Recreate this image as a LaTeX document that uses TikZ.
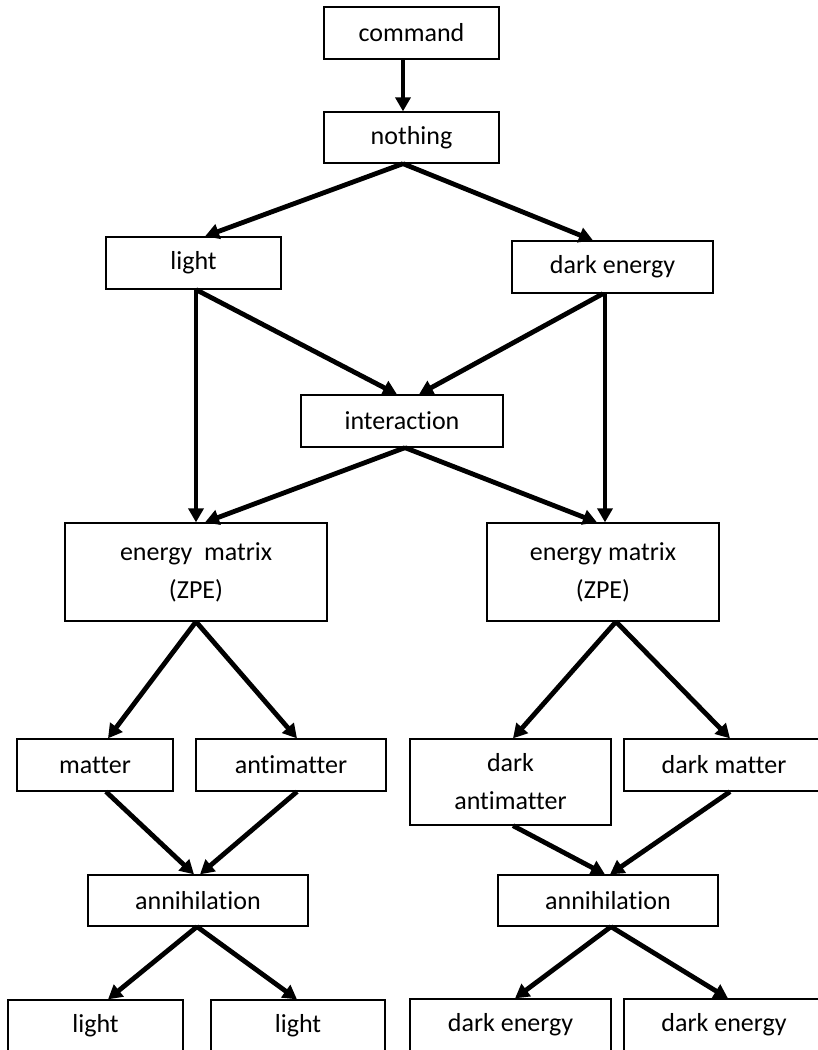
\documentclass[tikz,border=0pt]{standalone}
\usepackage{fontspec}
\setmainfont{Carlito}[Ligatures={NoCommon}]
\usetikzlibrary{arrows.meta,calc}
\tikzset{
  box/.style={draw=black, line width=1.3pt, fill=white, inner sep=0pt, align=center,
    font=\fontsize{26}{38}\selectfont},
  arr/.style={line width=4.8pt, -{Triangle[length=14pt,width=15pt]}},
}
\begin{document}
\begin{tikzpicture}[x=1pt,y=-1pt]
\useasboundingbox (0,0) rectangle (818,1050);
\clip (0,0) rectangle (818,1050);
\fill[white] (0,0) rectangle (818,1050);
% nodes
\node[box, minimum width=175, minimum height=52] (command) at (411.5,33) {command};
\node[box, minimum width=175, minimum height=51] (nothing) at (411.5,137.5) {nothing};
\node[box, minimum width=175, minimum height=52] (light) at (193.5,263) {light};
\node[box, minimum width=201, minimum height=52] (darkenergy) at (612.5,267) {dark energy};
\node[box, minimum width=202, minimum height=52] (interaction) at (402,421) {interaction};
\node[box, minimum width=262, minimum height=98] (emL) at (196,572) {energy\ \ matrix\\(ZPE)};
\node[box, minimum width=232, minimum height=98] (emR) at (603,572) {energy matrix\\(ZPE)};
\node[box, minimum width=156, minimum height=52] (matter) at (95,765) {matter};
\node[box, minimum width=190, minimum height=52] (antimatter) at (291,765) {antimatter};
\node[box, minimum width=201, minimum height=86] (darkanti) at (510.5,782) {dark\\antimatter};
\node[box, minimum width=200, minimum height=52] (darkmatter) at (724,765) {dark matter};
\node[box, minimum width=220, minimum height=51] (annL) at (198,900.5) {annihilation};
\node[box, minimum width=220, minimum height=51] (annR) at (608,900.5) {annihilation};
\node[box, minimum width=175, minimum height=52] (lb1) at (95.5,1026) {light};
\node[box, minimum width=174, minimum height=52] (lb2) at (298,1026) {light};
\node[box, minimum width=201, minimum height=52] (db1) at (510.5,1025) {dark energy};
\node[box, minimum width=200, minimum height=52] (db2) at (724,1025) {dark energy};
% connectors
\draw[arr] ($(command.south)+(-8.5,0)$) -- ($(nothing.north)+(-8.5,0)$);
\draw[arr] ($(nothing.south)+(-8.5,0)$) -- ($(light.north)+(11.5,0)$);
\draw[arr] ($(nothing.south)+(-8.5,0)$) -- ($(darkenergy.north)+(-19.5,0)$);
\draw[arr] ($(light.south)+(2.5,0)$) -- ($(emL.north)+(0,0)$);
\draw[arr] ($(light.south)+(2.5,0)$) -- ($(interaction.north)+(-5,0)$);
\draw[arr] ($(darkenergy.south)+(-9.5,0)$) -- ($(interaction.north)+(17,0)$);
\draw[arr] ($(darkenergy.south)+(-7.5,0)$) -- ($(emR.north)+(2,0)$);
\draw[arr] ($(interaction.south)+(3,0)$) -- ($(emL.north)+(9,0)$);
\draw[arr] ($(interaction.south)+(3,0)$) -- ($(emR.north)+(-6,0)$);
\draw[arr] ($(emL.south)+(0,0)$) -- ($(matter.north)+(13,0)$);
\draw[arr] ($(emL.south)+(0,0)$) -- ($(antimatter.north)+(6,0)$);
\draw[arr] ($(emR.south)+(13,0)$) -- ($(darkanti.north)+(2.5,0)$);
\draw[arr] ($(emR.south)+(13,0)$) -- ($(darkmatter.north)+(6,0)$);
\draw[arr] ($(matter.south)+(11,0)$) -- ($(annL.north)+(-4,0)$);
\draw[arr] ($(antimatter.south)+(6,0)$) -- ($(annL.north)+(2,0)$);
\draw[arr] ($(darkanti.south)+(2.5,0)$) -- ($(annR.north)+(-3,0)$);
\draw[arr] ($(darkmatter.south)+(6,0)$) -- ($(annR.north)+(2,0)$);
\draw[arr] ($(annL.south)+(-1,0)$) -- ($(lb1.north)+(12.5,0)$);
\draw[arr] ($(annL.south)+(-1,0)$) -- ($(lb2.north)+(-1,0)$);
\draw[arr] ($(annR.south)+(3,0)$) -- ($(db1.north)+(4.5,0)$);
\draw[arr] ($(annR.south)+(3,0)$) -- ($(db2.north)+(4,0)$);
\end{tikzpicture}
\end{document}
